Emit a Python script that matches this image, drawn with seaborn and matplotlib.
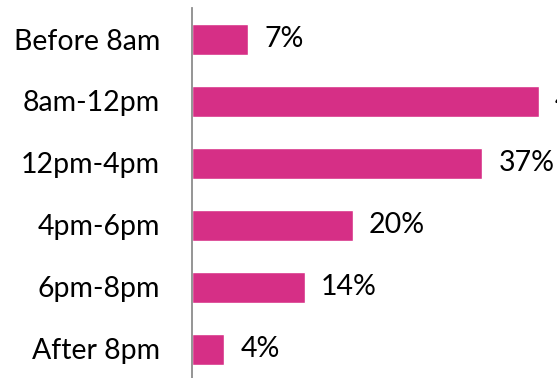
import numpy as np
import pandas as pd
import matplotlib
matplotlib.use("Agg")
import matplotlib.pyplot as plt
import seaborn as sns
from matplotlib.ticker import FixedLocator

# data (bar lengths as drawn, labels as printed)
categories = ["Before 8am", "8am-12pm", "12pm-4pm", "4pm-6pm", "6pm-8pm", "After 8pm"]
values = [7, 43.1, 36.1, 20, 14, 4]
value_labels = ["7%", "43%", "37%", "20%", "14%", "4%"]

sns.set_style("white")
plt.rcParams["font.family"] = ["Lato", "DejaVu Sans"]

df = pd.DataFrame({"slot": categories, "pct": values})

fig = plt.figure(figsize=(5.57, 3.78), dpi=100)
ax = fig.add_axes([192 / 557, -2 / 378, 402 / 557, 372 / 378])

sns.barplot(data=df, y="slot", x="pct", orient="h", color="#D62F86",
            width=0.5, saturation=1, ax=ax)

ax.set_xlim(0, 50)
ax.set_ylim(len(categories) - 0.5, -0.5)

for i, (v, lab) in enumerate(zip(values, value_labels)):
    ax.text(v + 2.0, i, lab, va="center", ha="left", fontsize=20.5, color="black",
            clip_on=False)

# axis styling
for s in ["top", "right", "bottom"]:
    ax.spines[s].set_visible(False)
ax.spines["left"].set_color("#8c8c8c")
ax.spines["left"].set_linewidth(1.3)
ax.set_xticks([])
ax.set_xlabel("")
ax.set_ylabel("")
ax.tick_params(axis="y", which="major", length=0, pad=23, labelsize=20.5, labelcolor="black")
ax.yaxis.set_minor_locator(FixedLocator(np.arange(-0.5, len(categories), 1.0)))
ax.tick_params(axis="y", which="minor", length=5, width=1.3, color="#8c8c8c", direction="out")

fig.savefig("out.png", dpi=100)
